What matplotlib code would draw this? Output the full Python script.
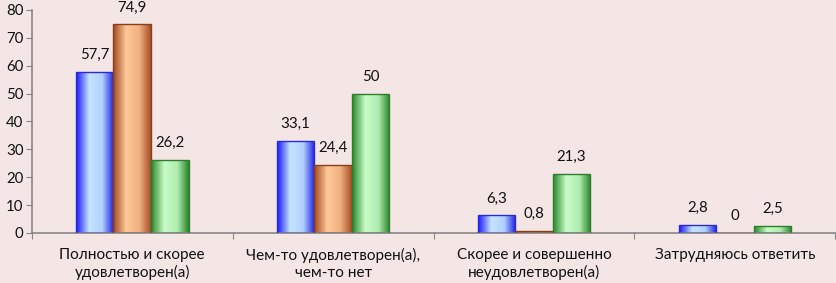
import numpy as np
import matplotlib.pyplot as plt
from matplotlib.colors import LinearSegmentedColormap

categories = ["Полностью и скорее\nудовлетворен(а)",
              "Чем-то удовлетворен(а),\nчем-то нет",
              "Скорее и совершенно\nнеудовлетворен(а)",
              "Затрудняюсь ответить"]
series1 = [57.7, 33.1, 6.3, 2.8]
series2 = [74.9, 24.4, 0.8, 0]
series3 = [26.2, 50, 21.3, 2.5]
labels1 = ["57,7", "33,1", "6,3", "2,8"]
labels2 = ["74,9", "24,4", "0,8", "0"]
labels3 = ["26,2", "50", "21,3", "2,5"]

bg = "#f5e6e6"
plt.rcParams['font.family'] = ['Lato', 'DejaVu Sans']

fig = plt.figure(figsize=(8.37, 2.83), dpi=100, facecolor=bg)
ax = fig.add_axes([0.038, 0.177, 0.96, 0.788])
ax.set_facecolor(bg)

# gradient colours: edge, highlight, edge
grads = [
    (["#1a1aff", "#c6e4ff", "#b0d0ff", "#2020e0"], "#2a2ad0"),
    (["#a24a22", "#ffc898", "#f0b080", "#a85028"], "#8a3e1c"),
    (["#2a8a2a", "#c8fcc8", "#b0ecb0", "#2a862a"], "#2e7d2e"),
]

x = np.arange(len(categories))
w = 0.187
for i, (vals, labs) in enumerate([(series1, labels1), (series2, labels2), (series3, labels3)]):
    cols, edge = grads[i]
    cmap = LinearSegmentedColormap.from_list("g%d" % i, list(zip([0, 0.35, 0.7, 1.0], cols)))
    pos = x + (i - 1) * w
    bars = ax.bar(pos, vals, width=w, color="none", edgecolor=edge, linewidth=1, zorder=3)
    for b, v, lab in zip(bars, vals, labs):
        if v > 0:
            x0 = b.get_x()
            im = ax.imshow(np.linspace(0, 1, 64).reshape(1, -1), cmap=cmap, aspect="auto",
                           extent=[x0, x0 + b.get_width(), 0, v], zorder=2,
                           interpolation="bilinear")
            im.set_clip_path(b)
        ax.annotate(lab, (b.get_x() + b.get_width() / 2, v), xytext=(0, 7),
                    textcoords="offset points", ha="center", va="bottom", fontsize=10.8,
                    color="#111111")

ax.set_xlim(-0.5, len(categories) - 0.5)
ax.set_ylim(0, 80)
ax.set_yticks(range(0, 81, 10))
ax.set_xticks(np.arange(-0.5, len(categories), 1.0))
ax.set_xticklabels([])
ax.set_xticks(x, minor=True)
ax.set_xticklabels(categories, minor=True, fontsize=11, color="#111111", linespacing=1.25)
ax.tick_params(axis="x", which="minor", length=0, pad=11)
ax.tick_params(axis="x", which="major", length=4, color="#868686")
ax.tick_params(axis="y", length=4, color="#868686", labelsize=10.8, labelcolor="#111111", pad=2)
for s in ["top", "right"]:
    ax.spines[s].set_visible(False)
for s in ["left", "bottom"]:
    ax.spines[s].set_color("#868686")
    ax.spines[s].set_linewidth(1.2)

fig.savefig("out.png", dpi=100, facecolor=bg)
